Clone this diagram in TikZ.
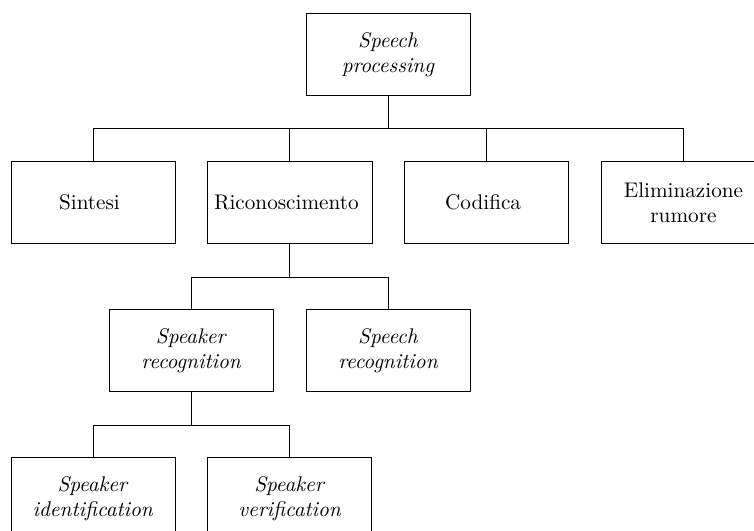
\documentclass[tikz,border=0pt]{standalone}
\usepackage{amssymb,amsmath}
\usepackage{tikz}
\usetikzlibrary{positioning}

\begin{document}
\begin{tikzpicture}
\useasboundingbox (-43.9pt,25.7pt) rectangle (312pt,-224.9pt);

\def\dx{92.9pt}
\def\dy{69.9pt}
\tikzstyle{block} = [
	draw, rectangle, align=center,
	minimum height=38.7pt, minimum width=77.4pt ];
\tikzstyle{link} = [draw];

\node[block] (sp) at (1.5*\dx,0) { \textit{Speech}\\\textit{processing} };

\node[block] (sin) at (0*\dx,-1*\dy) { Sintesi };
\node[block] (ric) at (1*\dx,-1*\dy) { Riconoscimento };
\node[block] (cod) at (2*\dx,-1*\dy) { Codifica };
\node[block] (eli) at (3*\dx,-1*\dy) { Eliminazione\\rumore };

\node[block] (spkr) at (0.5*\dx,-2*\dy) { \textit{Speaker}\\\textit{recognition} };
\node[block] (spch) at (1.5*\dx,-2*\dy) { \textit{Speech}\\\textit{recognition} };

\node[block] (sid) at (0*\dx,-3*\dy) { \textit{Speaker}\\\textit{identification} };
\node[block] (sver) at (1*\dx,-3*\dy) { \textit{Speaker}\\\textit{verification} };

% tree links
\foreach \a/\b in {sp/sin, sp/ric, sp/cod, sp/eli, ric/spkr, ric/spch, spkr/sid, spkr/sver}
	\draw (\a.south) -- ++(0,-15.6pt) -| (\b.north);

\end{tikzpicture}
\end{document}
